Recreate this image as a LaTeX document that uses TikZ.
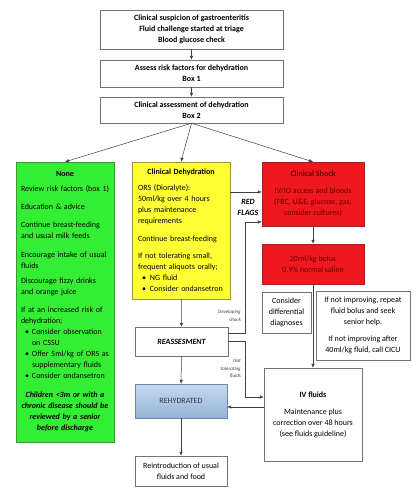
\documentclass[tikz,border=0pt]{standalone}
\usepackage{fontspec}
\setmainfont{Carlito}
\usetikzlibrary{arrows.meta,positioning,calc}
\definecolor{noneGreen}{RGB}{52,238,52}
\definecolor{noneEdge}{RGB}{60,150,60}
\definecolor{dehydYellow}{RGB}{255,255,51}
\definecolor{dehydEdge}{RGB}{150,150,70}
\definecolor{shockRed}{RGB}{238,24,30}
\definecolor{shockEdge}{RGB}{170,30,30}
\definecolor{shockText}{RGB}{105,0,0}
\definecolor{rehydTop}{RGB}{198,217,241}
\definecolor{rehydBot}{RGB}{149,179,215}
\definecolor{rehydEdge}{RGB}{110,135,170}
\definecolor{rehydText}{RGB}{40,55,80}

\begin{document}
\begin{tikzpicture}[x=1pt,y=-1pt,
    stepbox/.style={draw=black!55,fill=white,minimum width=183pt,inner sep=1pt,
      align=center,font=\fontsize{8}{11}\selectfont\bfseries},
    nonebox/.style={draw=noneEdge,fill=noneGreen,minimum height=280pt,text width=93pt,
      inner xsep=2.5pt,align=left,font=\fontsize{8}{11}\selectfont},
    dehydbox/.style={draw=dehydEdge,fill=dehydYellow,minimum height=137pt,text width=90pt,
      inner xsep=4pt,align=left,font=\fontsize{8}{11}\selectfont},
    shockbox/.style={draw=shockEdge,fill=shockRed,text=shockText,minimum width=102pt,
      align=center,font=\fontsize{8}{11}\selectfont},
    plainbox/.style={draw=black!55,fill=white,inner sep=1pt,align=center,
      font=\fontsize{8}{11}\selectfont},
    flow/.style={-{Latex[length=4pt,width=3.5pt]},draw=black!75,line width=0.5pt},
    note/.style={font=\fontsize{5}{7.5}\selectfont\itshape,align=right,text=black!75,inner sep=1pt}
  ]
    \fill[white] (0,0) rectangle (416,500);
    \useasboundingbox (0,0) rectangle (416,500);

    \node[stepbox,minimum height=39pt] (suspect) at (191.5,29.5)
      {Clinical suspicion of gastroenteritis\\Fluid challenge started at triage\\Blood glucose check};
    \node[stepbox,minimum height=27pt] (risk) at (191.5,73.5)
      {Assess risk factors for dehydration\\Box 1};
    \node[stepbox,minimum height=26pt] (assess) at (191.5,110)
      {Clinical assessment of dehydration\\Box 2};

    \node[nonebox] (none) at (65,302) {{\centering\bfseries None\par}\vspace{4pt}
      \hspace*{2.5pt}Review risk factors (box 1)\\[7pt]
      \hspace*{2.5pt}Education \& advice\\[7pt]
      \hspace*{2.5pt}Continue breast-feeding\\\hspace*{2.5pt}and usual milk feeds\\[8pt]
      \hspace*{2.5pt}Encourage intake of usual\\\hspace*{2.5pt}fluids\\[4pt]
      \hspace*{2.5pt}Discourage fizzy drinks\\\hspace*{2.5pt}and orange juice\\[7pt]
      \hspace*{2.5pt}If at an increased risk of\\\hspace*{2.5pt}dehydration;\\
      \hspace*{6.5pt}\makebox[7pt][l]{\textbullet}Consider observation\\
      \hspace*{13.5pt}on CSSU\\
      \hspace*{6.5pt}\makebox[7pt][l]{\textbullet}Offer 5ml/kg of ORS as\\
      \hspace*{13.5pt}supplementary fluids\\
      \hspace*{6.5pt}\makebox[7pt][l]{\textbullet}Consider ondansetron\par\vspace{8pt}
      {\centering\bfseries\itshape Children <3m or with a\\chronic disease should be\\
      reviewed by a senior\\before discharge\par}};

    \node[dehydbox] (dehyd) at (181,230.5) {{\centering\bfseries Clinical Dehydration\par}\vspace{5pt}
      \hspace*{2pt}ORS (Dioralyte):\\\hspace*{2pt}50ml/kg over 4 hours\\\hspace*{2pt}plus maintenance\\
      \hspace*{2pt}requirements\\[7pt]
      \hspace*{2pt}Continue breast-feeding\\[6pt]
      \hspace*{2pt}If not tolerating small,\\\hspace*{2pt}frequent aliquots orally;\\
      \hspace*{6pt}\textbullet\hspace{4pt}NG fluid\\
      \hspace*{6pt}\textbullet\hspace{4pt}Consider ondansetron};

    \node[shockbox,minimum height=64pt] (shock) at (313,194)
      {\textbf{Clinical Shock}\\[6pt]IV/IO access and bloods\\(FBC, U\&E, glucose, gas,\\consider cultures)};
    \node[shockbox,minimum height=40pt] (bolus) at (313,264)
      {20ml/kg bolus\\0.9\% normal saline};
    \node[plainbox,minimum width=49pt,minimum height=41pt] (diff) at (286.5,312.5)
      {Consider\\differential\\diagnoses};
    \node[plainbox,minimum width=94pt,minimum height=69pt] (worse) at (363,325.5)
      {If not improving, repeat\\fluid bolus and seek\\senior help.\\[6pt]If not improving after\\40ml/kg fluid, call CICU};
    \node[plainbox,minimum width=98pt,minimum height=93pt] (ivfluids) at (313,414.5)
      {\textbf{IV fluids}\\[6pt]Maintenance plus\\correction over 48 hours\\(see fluids guideline)};

    \node[plainbox,minimum width=93pt,minimum height=29pt] (reassess) at (181.5,341.5)
      {\bfseries\itshape REASSESMENT};
    \node[plainbox,draw=rehydEdge,top color=rehydTop,bottom color=rehydBot,text=rehydText,
      minimum width=92pt,minimum height=34pt] (rehyd) at (181,401) {REHYDRATED};
    \node[plainbox,minimum width=92pt,minimum height=30pt] (reintro) at (181,471)
      {Reintroduction of usual\\fluids and food};

    \node[font=\fontsize{8}{11}\selectfont\bfseries\itshape,align=center,inner sep=0pt] (flags) at (248,207.5) {RED\\FLAGS};
    \node[note,anchor=east] (devlabel) at (242,316) {Developing\\shock};
    \node[note,anchor=east] (tollabel) at (242,369) {Not\\tolerating\\fluids};

    \coordinate (bendx) at (245,0);
    \coordinate (flagin) at ($(shock.west)+(0,-2)$);
    \coordinate (shockin) at ($(shock.west)+(0,28)$);
    \coordinate (devout) at ($(reassess.east)+(0,-8.5)$);
    \coordinate (tolin) at ($(ivfluids.west)+(0,-17.5)$);
    \coordinate (ivback) at ($(ivfluids.west)+(0,-7.5)$);

    % triage steps and the three grades of dehydration
    \draw[flow] (suspect) -- (risk);
    \draw[flow] (risk) -- (assess);
    \draw[flow] (assess.south) -- (none.north);
    \draw[flow] (assess.south) -- (dehyd.north);
    \draw[flow] (assess.south) -- (shock.north);
    \draw[flow] (dehyd.east |- flagin) -- (flagin);
    \draw[flow] (shock) -- (bolus);
    \draw[flow] (bolus) -- (ivfluids);
    \draw[flow] (dehyd) -- (reassess);
    \draw[flow] (reassess) -- (rehyd);
    \draw[flow] (rehyd) -- (reintro);
    \draw[flow] (devout) -- (devout -| bendx) |- (shockin);
    \draw[flow] (reassess.east) -- (reassess.east -| bendx) |- (tolin);
    \draw[flow] (ivback) -- (ivback -| rehyd.east);
  \end{tikzpicture}
\end{document}
